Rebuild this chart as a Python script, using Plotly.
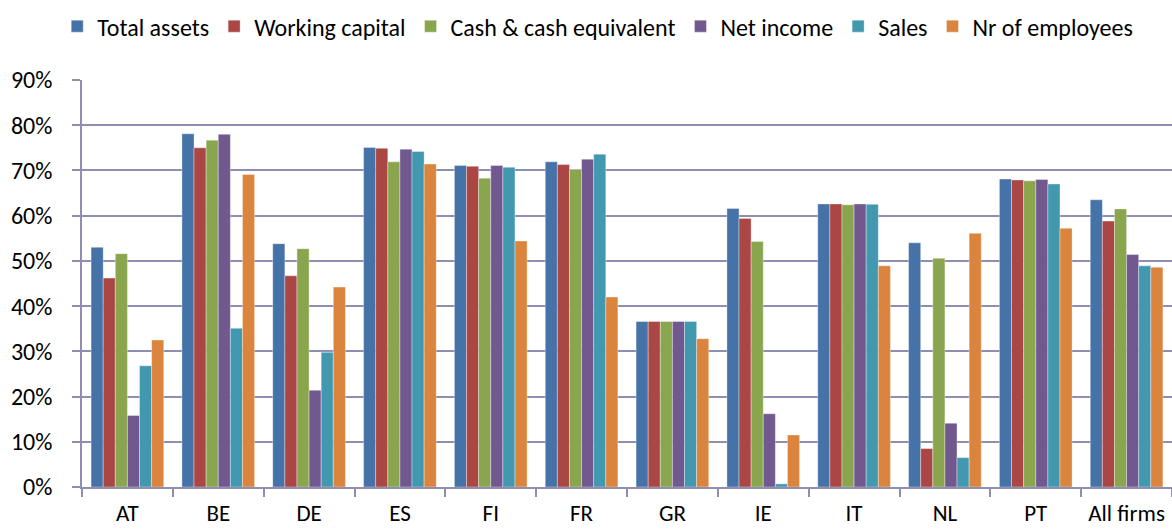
import plotly.graph_objects as go

categories = ["AT", "BE", "DE", "ES", "FI", "FR", "GR", "IE", "IT", "NL", "PT", "All firms"]

total_assets = [53.0, 78.1, 53.8, 75.1, 71.1, 71.9, 36.6, 61.6, 62.6, 54.0, 68.1, 63.5]
working_capital = [46.2, 75.0, 46.7, 74.9, 70.9, 71.3, 36.6, 59.4, 62.6, 8.5, 67.9, 58.8]
cash_equivalent = [51.6, 76.7, 52.7, 71.9, 68.3, 70.2, 36.6, 54.3, 62.4, 50.6, 67.7, 61.5]
net_income = [15.8, 78.0, 21.4, 74.7, 71.1, 72.5, 36.6, 16.2, 62.6, 14.1, 68.0, 51.4]
sales = [26.8, 35.1, 29.8, 74.2, 70.7, 73.6, 36.6, 0.7, 62.5, 6.5, 67.0, 48.9]
employees = [32.5, 69.1, 44.2, 71.4, 54.4, 42.0, 32.8, 11.5, 48.9, 56.1, 57.2, 48.6]

series_names = ["Total assets", "Working capital", "Cash & cash equivalent",
                "Net income", "Sales", "Nr of employees"]
series_values = [total_assets, working_capital, cash_equivalent, net_income, sales, employees]
colors = ["#4572A7", "#AA4643", "#89A54E", "#71588F", "#4198AF", "#DB843D"]

FONT = "Carlito, Calibri, Lato, sans-serif"
GRID = "#8e8eb0"

fig = go.Figure()
for name, vals, col in zip(series_names, series_values, colors):
    fig.add_trace(go.Bar(
        name=name, x=categories, y=[v / 100 for v in vals],
        marker=dict(color=col, line=dict(color="rgba(255,255,255,0.6)", width=0.6)),
    ))

fig.update_layout(
    width=1172, height=531,
    barmode="group", bargap=0.2, bargroupgap=0,
    paper_bgcolor="white", plot_bgcolor="white",
    margin=dict(l=82, r=0, t=80, b=44),
    font=dict(family=FONT, size=24, color="black"),
    legend=dict(orientation="h", xref="container", yref="container",
                x=0.51, xanchor="center", y=0.95, yanchor="middle",
                font=dict(size=24), itemwidth=30, tracegroupgap=0,
                bgcolor="rgba(0,0,0,0)"),
    xaxis=dict(type="category", tickson="boundaries", ticks="outside", ticklen=8,
               tickcolor=GRID, tickwidth=1.5, showline=True, linecolor=GRID, linewidth=1.5,
               showgrid=False, tickfont=dict(size=23), range=[-0.5, 11.5],
               ticklabelstandoff=5),
    yaxis=dict(range=[0, 0.9], dtick=0.1, tickformat=".0%", ticks="outside", ticklen=8,
               tickcolor=GRID, tickwidth=1.5, showline=True, linecolor=GRID, linewidth=1.5,
               showgrid=True, gridcolor=GRID, gridwidth=1.5, zeroline=False,
               tickfont=dict(size=24), ticklabelstandoff=15),
)

fig.write_html("out.html", config={"displayModeBar": False},
               post_script="document.body.style.margin='0';")
